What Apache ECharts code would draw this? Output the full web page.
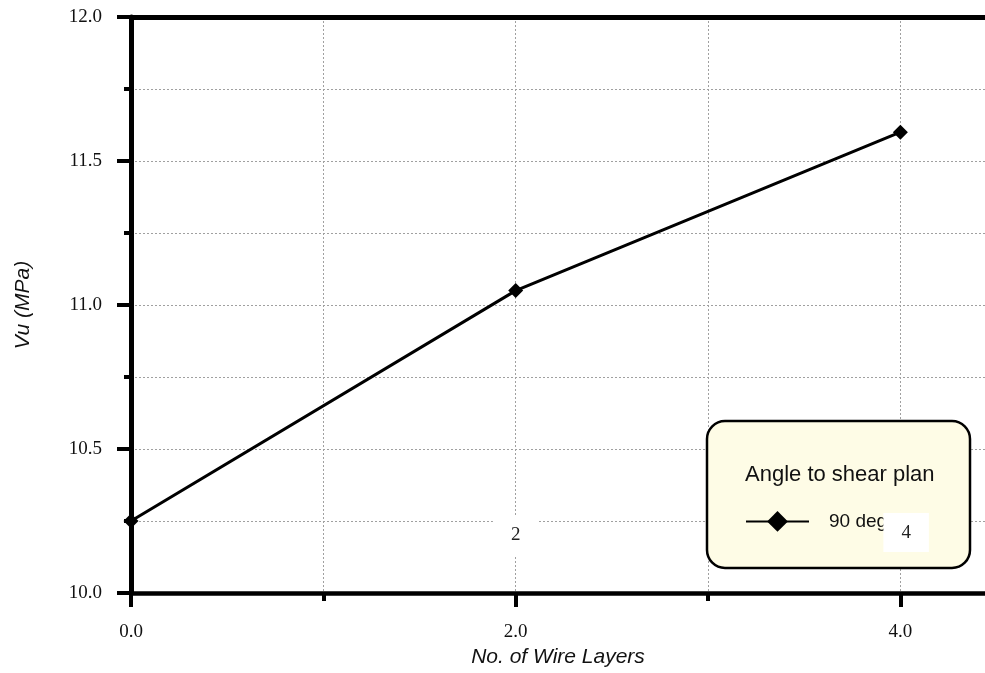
<!DOCTYPE html>
<html>
<head>
<meta charset="UTF-8">
<title>Vu vs wire layers</title>
<script src="https://cdn.jsdelivr.net/npm/echarts@6/dist/echarts.min.js"></script>
<style>
  html, body { margin: 0; padding: 0; background: #fff; }
  #chart { width: 985px; height: 673px; }
</style>
</head>
<body>
<div id="chart"></div>
<script>
// data
var layers = [0, 2, 4];
var vu = [10.25, 11.05, 11.6];
var seriesName = '90 deg';
var legendTitle = 'Angle to shear plan';
var xLabelled = [0, 2, 4];
var xTicks = [0, 1, 2, 3, 4];
// stray point labels sitting in the plot: [x, y, text]
var pointNotes = [[2, 10.2, '2'], [4.03, 10.21, '4']];

var chart = echarts.init(document.getElementById('chart'));

var serif = 'Liberation Serif';
var sans = 'Liberation Sans';
var gridLine = { show: true, lineStyle: { color: '#a0a0a0', width: 1, type: [2, 2] } };
var xMax = 4.44; // plot runs off the right edge

var option = {
  animation: false,
  grid: { left: 131, top: 17, right: 0, bottom: 79 },
  xAxis: [{
    type: 'value', min: 0, max: xMax, interval: 1,
    name: 'No. of Wire Layers', nameLocation: 'middle', nameGap: 54,
    nameTextStyle: { fontFamily: sans, fontStyle: 'italic', fontSize: 21, color: '#111' },
    axisLine: { show: true, onZero: false, lineStyle: { color: '#000', width: 4.5 } },
    axisTick: { show: true, length: 8, customValues: xTicks, lineStyle: { color: '#000', width: 4 } },
    axisLabel: {
      margin: 30, fontFamily: serif, fontSize: 19, color: '#111',
      customValues: xLabelled,
      formatter: function (v) { return v % 2 === 0 ? v.toFixed(1) : ''; }
    },
    splitLine: gridLine
  }, {
    // long ticks at the labelled values
    type: 'value', min: 0, max: xMax, interval: 2, position: 'bottom',
    axisLine: { show: false },
    axisTick: { show: true, length: 14, customValues: xLabelled, lineStyle: { color: '#000', width: 4 } },
    axisLabel: { show: false },
    splitLine: { show: false }
  }, {
    // top frame line
    type: 'value', min: 0, max: xMax, position: 'top',
    axisLine: { show: true, lineStyle: { color: '#000', width: 5 } },
    axisTick: { show: false }, axisLabel: { show: false }, splitLine: { show: false }
  }],
  yAxis: {
    type: 'value', min: 10, max: 12, interval: 0.5,
    name: 'Vu (MPa)', nameLocation: 'middle', nameGap: 97,
    nameTextStyle: { fontFamily: sans, fontStyle: 'italic', fontSize: 21, color: '#111' },
    axisLine: { show: true, lineStyle: { color: '#000', width: 5 } },
    axisTick: { show: true, length: 14, lineStyle: { color: '#000', width: 4 } },
    minorTick: { show: true, splitNumber: 2, length: 7, lineStyle: { color: '#000', width: 4 } },
    axisLabel: {
      margin: 29, fontFamily: serif, fontSize: 19, color: '#111',
      formatter: function (v) { return v.toFixed(1); }
    },
    splitLine: gridLine,
    minorSplitLine: gridLine
  },
  legend: {
    left: 745, top: 511, padding: 0,
    itemWidth: 63, itemHeight: 26,
    data: [seriesName],
    textStyle: { fontFamily: sans, fontSize: 19, color: '#111', padding: [0, 0, 0, 15] }
  },
  graphic: [{
    type: 'rect', z: 3,
    shape: { x: 707, y: 421, width: 263, height: 147, r: 18 },
    style: { fill: '#fefce6', stroke: '#000', lineWidth: 2.5 }
  }, {
    type: 'text', z: 4, x: 745, y: 475,
    style: { text: legendTitle, fontFamily: sans, fontSize: 22, fill: '#111', textVerticalAlign: 'middle' }
  }],
  series: [{
    name: seriesName,
    type: 'line',
    data: layers.map(function (x, i) { return [x, vu[i]]; }),
    symbol: 'diamond', symbolSize: 15,
    itemStyle: { color: '#000' },
    lineStyle: { color: '#000', width: 3 },
    markPoint: {
      z: 6,
      symbol: 'rect', symbolSize: 1,
      itemStyle: { color: 'rgba(0,0,0,0)' },
      label: {
        show: true, position: 'inside',
        fontFamily: serif, fontSize: 19, color: '#222',
        backgroundColor: '#fff', padding: [10, 18],
        formatter: function (p) { return p.name; }
      },
      data: pointNotes.map(function (n) { return { name: n[2], coord: [n[0], n[1]] }; })
    }
  }]
};

chart.setOption(option);
</script>
</body>
</html>
